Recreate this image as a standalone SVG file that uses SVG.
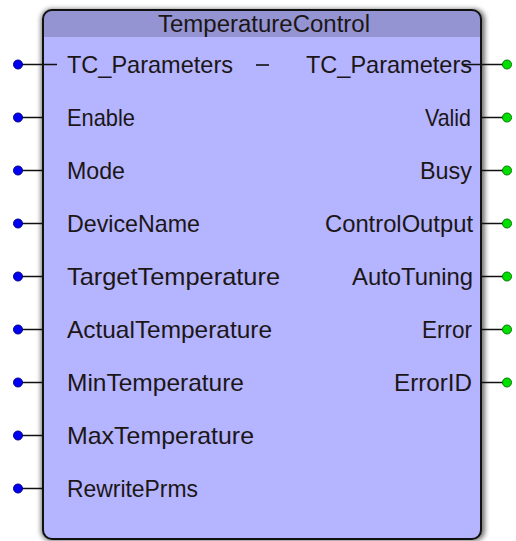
<svg xmlns="http://www.w3.org/2000/svg" width="516" height="541" viewBox="0 0 516 541">
<style>
.lbl{font-family:"Liberation Sans",Arial,sans-serif;font-size:24px;fill:#1c1616}
.r{text-anchor:end}
.ttl{font-family:"Liberation Sans",Arial,sans-serif;font-size:23px;fill:#1c1616}
.w{stroke:#111;stroke-width:1.6;fill:none}
.pi{fill:#0000F0;stroke:#00008C;stroke-width:1}
.po{fill:#00E000;stroke:#007A00;stroke-width:1}
</style>
<defs>
<filter id="sh" x="-10%" y="-10%" width="120%" height="120%"><feGaussianBlur stdDeviation="2.5"/></filter>
<clipPath id="bc"><rect x="43" y="10" width="438" height="529" rx="9"/></clipPath>
</defs>
<g id="block">
<rect x="41" y="9" width="444" height="532" rx="10" fill="#000" opacity="0.55" filter="url(#sh)"/>
<rect x="43" y="10" width="438" height="529" rx="9" fill="#B4B4FF"/>
<rect x="43" y="10" width="438" height="27" fill="#9494D2" clip-path="url(#bc)"/>
<rect x="43" y="10" width="438" height="529" rx="9" fill="none" stroke="#111" stroke-width="2"/>
<text class="ttl" x="158" y="32" textLength="212" lengthAdjust="spacingAndGlyphs">TemperatureControl</text>
</g>
<g id="connectors">
<path class="w" d="M18 64.5H57M18 117.5H43M18 170.5H43M18 223.5H43M18 276.5H43M18 329.5H43M18 382.5H43M18 435.5H43M18 488.5H43"/>
<path class="w" d="M256 65H269"/>
<path class="w" d="M463 64.5H507M481 117.5H507M481 170.5H507M481 223.5H507M481 276.5H507M481 329.5H507M481 382.5H507"/>
</g>
<g id="inputs">
<circle class="pi" cx="18" cy="64.5" r="4.5"/><text class="lbl" x="67" y="73" textLength="166" lengthAdjust="spacingAndGlyphs">TC_Parameters</text>
<circle class="pi" cx="18" cy="117.5" r="4.5"/><text class="lbl" x="67" y="126" textLength="68" lengthAdjust="spacingAndGlyphs">Enable</text>
<circle class="pi" cx="18" cy="170.5" r="4.5"/><text class="lbl" x="67" y="179" textLength="58" lengthAdjust="spacingAndGlyphs">Mode</text>
<circle class="pi" cx="18" cy="223.5" r="4.5"/><text class="lbl" x="67" y="232" textLength="133" lengthAdjust="spacingAndGlyphs">DeviceName</text>
<circle class="pi" cx="18" cy="276.5" r="4.5"/><text class="lbl" x="67" y="285" textLength="213" lengthAdjust="spacingAndGlyphs">TargetTemperature</text>
<circle class="pi" cx="18" cy="329.5" r="4.5"/><text class="lbl" x="67" y="338" textLength="205" lengthAdjust="spacingAndGlyphs">ActualTemperature</text>
<circle class="pi" cx="18" cy="382.5" r="4.5"/><text class="lbl" x="67" y="391" textLength="177" lengthAdjust="spacingAndGlyphs">MinTemperature</text>
<circle class="pi" cx="18" cy="435.5" r="4.5"/><text class="lbl" x="67" y="444" textLength="187" lengthAdjust="spacingAndGlyphs">MaxTemperature</text>
<circle class="pi" cx="18" cy="488.5" r="4.5"/><text class="lbl" x="67" y="497" textLength="131" lengthAdjust="spacingAndGlyphs">RewritePrms</text>
</g>
<g id="outputs">
<circle class="po" cx="507" cy="64.5" r="4.5"/><text class="lbl r" x="472" y="73" textLength="166" lengthAdjust="spacingAndGlyphs">TC_Parameters</text>
<circle class="po" cx="507" cy="117.5" r="4.5"/><text class="lbl r" x="471" y="126" textLength="46" lengthAdjust="spacingAndGlyphs">Valid</text>
<circle class="po" cx="507" cy="170.5" r="4.5"/><text class="lbl r" x="472" y="179" textLength="52" lengthAdjust="spacingAndGlyphs">Busy</text>
<circle class="po" cx="507" cy="223.5" r="4.5"/><text class="lbl r" x="473" y="232" textLength="148" lengthAdjust="spacingAndGlyphs">ControlOutput</text>
<circle class="po" cx="507" cy="276.5" r="4.5"/><text class="lbl r" x="473" y="285" textLength="121" lengthAdjust="spacingAndGlyphs">AutoTuning</text>
<circle class="po" cx="507" cy="329.5" r="4.5"/><text class="lbl r" x="472" y="338" textLength="50" lengthAdjust="spacingAndGlyphs">Error</text>
<circle class="po" cx="507" cy="382.5" r="4.5"/><text class="lbl r" x="472" y="391" textLength="78" lengthAdjust="spacingAndGlyphs">ErrorID</text>
</g>
</svg>
